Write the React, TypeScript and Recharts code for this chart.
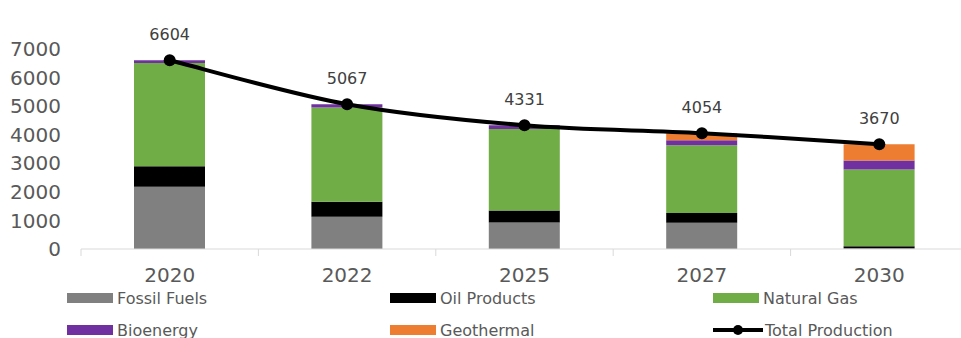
import React from 'react';
import { ComposedChart, Bar, Line, XAxis, YAxis, LabelList } from 'recharts';

const years = ['2020', '2022', '2025', '2027', '2030'];
const fossilFuels = [2180, 1130, 930, 920, 20];
const oilProducts = [720, 520, 420, 340, 80];
const naturalGas = [3610, 3300, 2850, 2370, 2680];
const bioenergy = [94, 117, 131, 175, 315];
const geothermal = [0, 0, 0, 249, 575];
const totalProduction = [6604, 5067, 4331, 4054, 3670];
const yTicks = [0, 1000, 2000, 3000, 4000, 5000, 6000, 7000];

const data = years.map((y, i) => ({
  year: y,
  fossil: fossilFuels[i],
  oil: oilProducts[i],
  gas: naturalGas[i],
  bio: bioenergy[i],
  geo: geothermal[i],
  total: totalProduction[i],
}));

const CHART_W = 975;
const CHART_H = 338;
const M = { top: 49, right: 7, bottom: 0, left: 0 };
const Y_W = 81;
const X_H = 89;
const FONT = '"DejaVu Sans", Verdana, sans-serif';
const halfBand = (CHART_W - M.left - M.right - Y_W) / years.length / 2;

// Catmull-Rom style smoothing (like a spreadsheet "smoothed line")
const smoothCurve = (context: any) => {
  let pts: number[][] = [];
  return {
    areaStart() {},
    areaEnd() {},
    lineStart() {
      pts = [];
    },
    point(x: number, y: number) {
      pts.push([+x, +y]);
    },
    lineEnd() {
      const n = pts.length;
      if (!n) return;
      context.moveTo(pts[0][0], pts[0][1]);
      for (let i = 0; i < n - 1; i++) {
        const p0 = pts[Math.max(i - 1, 0)];
        const p1 = pts[i];
        const p2 = pts[i + 1];
        const p3 = pts[Math.min(i + 2, n - 1)];
        context.bezierCurveTo(
          p1[0] + (p2[0] - p0[0]) / 6,
          p1[1] + (p2[1] - p0[1]) / 6,
          p2[0] - (p3[0] - p1[0]) / 6,
          p2[1] - (p3[1] - p1[1]) / 6,
          p2[0],
          p2[1]
        );
      }
    },
  };
};

const XTick = (props: any) => {
  const { x, y, payload } = props;
  return (
    <g>
      <line x1={x - halfBand} x2={x - halfBand} y1={y} y2={y + 7} stroke="#d9d9d9" strokeWidth={1} />
      <text x={x} y={y + 33} textAnchor="middle" fill="#595959" fontSize={20} fontFamily={FONT}>
        {payload.value}
      </text>
    </g>
  );
};

const legendItems = [
  { name: 'Fossil Fuels', color: '#808080', type: 'rect' },
  { name: 'Oil Products', color: '#000000', type: 'rect' },
  { name: 'Natural Gas', color: '#70AD47', type: 'rect' },
  { name: 'Bioenergy', color: '#7030A0', type: 'rect' },
  { name: 'Geothermal', color: '#ED7D31', type: 'rect' },
  { name: 'Total Production', color: '#000000', type: 'line' },
];

const LegendBox = () => (
  <div
    style={{
      position: 'absolute',
      left: 67,
      top: 287,
      width: 969,
      display: 'grid',
      gridTemplateColumns: '323px 323px 323px',
      rowGap: 10,
      fontFamily: FONT,
      fontSize: 16,
      color: '#595959',
    }}
  >
    {legendItems.map((it) => (
      <div key={it.name} style={{ display: 'flex', alignItems: 'center', height: 22 }}>
        {it.type === 'rect' ? (
          <span style={{ display: 'inline-block', width: 46, height: 10, background: it.color, marginRight: 4 }} />
        ) : (
          <svg width={50} height={14} style={{ marginRight: 2 }}>
            <line x1={0} x2={50} y1={7} y2={7} stroke="#000" strokeWidth={4} />
            <circle cx={25} cy={7} r={5} fill="#000" />
          </svg>
        )}
        <span>{it.name}</span>
      </div>
    ))}
  </div>
);

export default function App() {
  return (
    <div style={{ position: 'absolute', left: 0, top: 0, width: 961, height: 338, overflow: 'hidden', background: '#fff' }}>
      <ComposedChart width={CHART_W} height={CHART_H} data={data} margin={M}>
        <XAxis
          dataKey="year"
          height={X_H}
          axisLine={{ stroke: '#d9d9d9', strokeWidth: 1 }}
          tickLine={false}
          tickSize={0}
          tickMargin={0}
          tick={<XTick />}
          interval={0}
        />
        <YAxis
          width={Y_W}
          domain={[0, 7000]}
          ticks={yTicks}
          axisLine={false}
          tickLine={false}
          tickSize={0}
          tickMargin={20}
          tick={{ fill: '#595959', fontSize: 20, fontFamily: FONT }}
          interval={0}
        />
        <Bar dataKey="fossil" stackId="a" fill="#808080" barSize={71} isAnimationActive={false} />
        <Bar dataKey="oil" stackId="a" fill="#000000" barSize={71} isAnimationActive={false} />
        <Bar dataKey="gas" stackId="a" fill="#70AD47" barSize={71} isAnimationActive={false} />
        <Bar dataKey="bio" stackId="a" fill="#7030A0" barSize={71} isAnimationActive={false} />
        <Bar dataKey="geo" stackId="a" fill="#ED7D31" barSize={71} isAnimationActive={false} />
        <Line
          dataKey="total"
          type={smoothCurve as any}
          stroke="#000"
          strokeWidth={4}
          dot={{ r: 6, fill: '#000', stroke: '#000', strokeWidth: 0 }}
          isAnimationActive={false}
        >
          <LabelList dataKey="total" position="top" offset={20} fill="#404040" fontSize={16} fontFamily={FONT} />
        </Line>
      </ComposedChart>
      <LegendBox />
    </div>
  );
}
